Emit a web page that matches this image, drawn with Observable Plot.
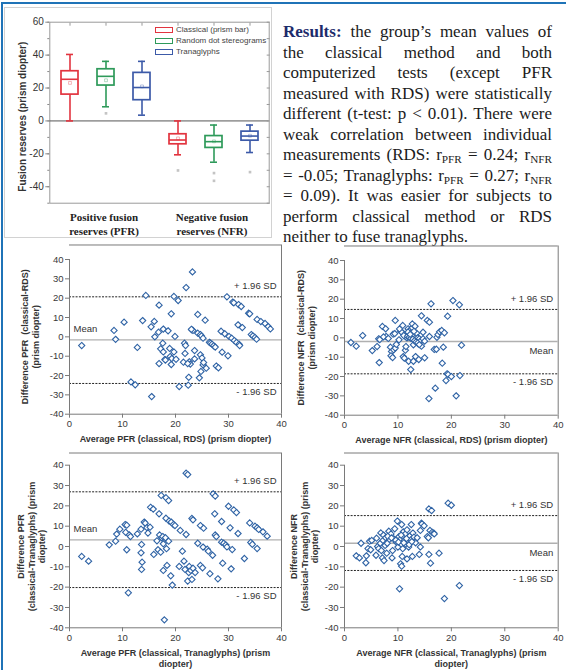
<!DOCTYPE html>
<html>
<head>
<meta charset="utf-8">
<script src="https://cdn.jsdelivr.net/npm/d3@7"></script>
<script src="https://cdn.jsdelivr.net/npm/@observablehq/plot@0.6"></script>
<style>
html,body{margin:0;padding:0;background:#fff;}
body{width:566px;height:670px;position:relative;overflow:hidden;font-family:"Liberation Sans",Arial,sans-serif;}
.abs{position:absolute;}
.abs svg{overflow:visible;display:block;}
#blueLeft{left:1px;top:2px;width:2px;height:668px;background:#1f73b7;}
#blueTop{left:1px;top:2px;width:565px;height:2px;background:#1f73b7;}
#boxPanel{left:4px;top:7px;width:266px;height:229px;border:1px solid #d2d2d2;}
#results{left:283px;top:22px;width:269px;font-family:"Liberation Serif","Times New Roman",serif;font-size:17px;line-height:20.5px;color:#1b1b1b;}
#results .j{text-align:justify;text-align-last:justify;}
#results sub{font-size:0.66em;vertical-align:-0.28em;line-height:0;}
#results b{color:#1d2b6b;}
#legend{left:155px;top:24px;font-size:8px;color:#444;}
#legend .row{display:flex;align-items:center;height:11px;white-space:nowrap;}
#legend .sw{width:16px;height:4px;border:1.5px solid;margin-right:3px;background:#fff;}
</style>
</head>
<body>
<div id="boxPanel" class="abs"></div>
<div id="blueLeft" class="abs"></div>
<div id="blueTop" class="abs"></div>
<div id="boxChart" class="abs" style="left:0;top:0"></div>
<div id="legend" class="abs"></div>
<div id="results" class="abs">
<div class="j"><b>Results:</b> the group’s mean values of</div>
<div class="j">the classical method and both</div>
<div class="j">computerized tests (except PFR</div>
<div class="j">measured with RDS) were statistically</div>
<div class="j">different (t-test: p &lt; 0.01). There were</div>
<div class="j">weak correlation between individual</div>
<div class="j">measurements (RDS: r<sub>PFR</sub> = 0.24; r<sub>NFR</sub></div>
<div class="j">= -0.05; Tranaglyphs: r<sub>PFR</sub> = 0.27; r<sub>NFR</sub></div>
<div class="j">= 0.09). It was easier for subjects to</div>
<div class="j">perform classical method or RDS</div>
<div>neither to fuse tranaglyphs.</div>
</div>
<div id="s1" class="abs" style="left:0;top:240px"></div>
<div id="s2" class="abs" style="left:285px;top:240px"></div>
<div id="s3" class="abs" style="left:0;top:450px"></div>
<div id="s4" class="abs" style="left:285px;top:450px"></div>
<script>
// ---------- Box plot data ----------
const boxKeys = ["PFR-C", "PFR-R", "PFR-T", "NFR-C", "NFR-R", "NFR-T"];
const legendLabels = ["Classical (prism bar)", "Random dot stereograms", "Tranaglyphs"];
const boxLow = [0, 8.6, 3.5, -20.6, -25.1, -19.2];
const boxQ1 = [16.0, 21.5, 12.6, -14.2, -16.4, -12.0];
const boxMedian = [25.3, 27.1, 20.3, -11.6, -12.6, -9.2];
const boxQ3 = [30.2, 31.4, 29.2, -8.1, -9.2, -6.5];
const boxHigh = [40.4, 36.2, 36.2, 0, -2.5, -2.5];
const boxMean = [23.1, 24.7, 21.0, -10.6, -12.4, -9.0];
const outlierKeys = ["PFR-R", "NFR-C", "NFR-R", "NFR-R", "NFR-T"];
const outlierValues = [4.6, -30.1, -31.7, -36.4, -31.1];
const groupKeys = ["PFR-R", "NFR-R"];
const groupLabels = ["Positive fusion\nreserves (PFR)", "Negative fusion\nreserves (NFR)"];
const boxMajorTicks = [-40, -20, 0, 20, 40, 60];
const boxMinorTicks = [-50, -40, -30, -20, -10, 0, 10, 20, 30, 40, 50, 60];
const boxYTitle = "Fusion reserves (prism diopter)";

// ---------- Bland-Altman data: [average, difference] ----------
const pfrRdsPoints = [[2.3,-4.5],[8.4,3.3],[8.7,-1.3],[10.3,7.6],[12.8,-5.5],[11.6,-23.3],[12.4,-24.8],[14.4,21.4],[13.8,8.4],[15.4,5.2],[16.0,8.0],[16.1,0.0],[16.8,2.4],[16.9,16.4],[15.5,-30.9],[16.9,-13.8],[17.2,-6.2],[17.6,-3.3],[17.7,4.0],[17.7,-7.8],[18.0,-11.7],[18.6,3.1],[18.9,-6.0],[19.2,11.9],[19.0,-10.2],[19.2,-14.3],[19.3,-11.2],[19.7,20.9],[19.7,-7.8],[19.9,0.2],[20.1,-11.6],[20.5,18.8],[20.7,-25.7],[21.7,-3.3],[21.8,-8.6],[22.0,25.5],[21.5,-13.1],[21.9,-4.5],[22.4,-25.0],[22.5,-20.9],[22.6,-12.9],[22.8,-14.1],[23.2,33.6],[23.1,3.6],[23.3,3.3],[23.6,-7.1],[23.6,-11.4],[24.2,1.9],[24.2,11.6],[24.5,-21.2],[24.7,-9.3],[24.7,1.2],[24.9,0.5],[25.0,-10.9],[25.2,-0.7],[25.2,-14.5],[24.8,-17.9],[25.6,8.6],[25.8,-16.2],[25.3,-13.3],[26.4,-2.8],[26.6,-3.3],[26.9,-3.8],[27.2,-4.6],[27.5,-5.3],[27.7,-15.1],[28.1,-16.0],[28.6,2.9],[28.8,-7.9],[29.3,1.6],[29.7,20.7],[29.9,-9.8],[30.1,0.2],[30.6,-0.7],[30.8,18.0],[31.0,17.6],[31.1,-1.9],[31.5,-2.9],[31.9,16.7],[31.8,6.2],[32.0,-3.8],[32.1,-4.5],[32.4,15.7],[32.6,4.8],[33.8,12.2],[34.0,11.9],[34.3,1.2],[34.6,0.5],[35.0,-0.3],[35.3,-1.2],[35.4,9.0],[36.1,7.9],[36.9,6.9],[37.5,5.3],[37.9,4.1],[22.3,-13.8],[23.0,3.9],[18.1,-12.0]];
const pfrRdsLimits = [20.7, -1.6, -24.1];

const nfrRdsPoints = [[1.2,-2.4],[2.2,-4.3],[3.4,1.2],[5.2,-6.6],[6.1,-4.5],[6.4,-0.5],[6.6,-0.9],[6.5,-12.8],[7.1,5.9],[7.7,4.7],[7.8,0.7],[7.3,0.5],[8.2,-0.3],[8.6,-4.8],[8.8,-7.1],[8.7,-9.3],[9.0,-10.2],[9.1,1.9],[9.4,2.2],[9.5,9.0],[9.2,-6.2],[9.5,-5.3],[9.7,-3.4],[10.2,-1.0],[10.5,3.6],[10.8,2.8],[10.9,6.4],[11.0,-9.7],[11.2,-10.5],[11.4,-6.4],[11.5,-4.5],[11.4,0.7],[11.7,0.0],[11.9,4.7],[12.0,-12.1],[12.2,3.8],[12.4,-16.4],[12.5,2.8],[12.7,5.2],[12.7,7.2],[12.9,-12.1],[12.9,-3.6],[13.2,6.0],[13.3,-9.7],[13.4,0.3],[13.5,2.4],[13.7,0.0],[13.8,-3.1],[13.9,-11.2],[14.0,-0.5],[14.2,-1.7],[14.4,11.4],[14.4,-4.3],[14.7,2.9],[14.7,-0.5],[15.0,-1.7],[15.0,-10.3],[15.5,9.0],[15.9,0.7],[15.8,-31.4],[15.9,8.1],[16.2,17.6],[16.8,-6.0],[17.0,-26.0],[17.2,-5.9],[17.3,0.3],[17.5,1.7],[17.8,3.1],[18.2,3.8],[18.3,-13.1],[18.5,-4.8],[18.7,2.6],[19.3,11.2],[19.2,-18.6],[19.0,-22.1],[19.4,-19.0],[20.0,-20.0],[20.3,19.3],[20.9,-30.0],[21.5,17.1],[21.6,-19.5],[21.9,-3.8],[10.6,3.2],[11.1,1.2],[11.8,0.8],[12.1,0.3],[12.4,-0.2],[12.8,-0.7],[13.1,-1.5],[13.4,-2.1],[13.7,-2.6],[14.0,-3.5],[11.9,3.0],[10.3,4.6],[12.3,1.8],[13.0,3.4]];
const nfrRdsLimits = [14.7, -1.9, -18.6];

const pfrTraPoints = [[2.3,-4.9],[3.6,-7.2],[7.5,0.8],[8.7,2.6],[8.9,6.1],[9.5,8.5],[10.5,10.8],[10.8,10.5],[10.6,7.0],[10.8,-1.6],[11.1,-22.8],[11.3,5.7],[11.5,4.9],[12.8,6.2],[13.5,8.5],[13.6,1.0],[13.5,-3.1],[13.6,-11.3],[13.7,-7.7],[14.1,12.0],[14.3,11.5],[14.6,9.3],[14.8,6.6],[15.2,9.5],[15.3,19.3],[15.8,18.4],[15.9,-3.9],[16.5,2.8],[16.7,-1.6],[16.9,16.1],[17.0,5.7],[17.2,-2.8],[17.3,25.1],[17.4,4.3],[17.6,4.9],[17.7,1.3],[17.7,-11.8],[17.9,-36.1],[18.1,4.3],[18.2,24.0],[18.2,13.9],[18.3,-1.1],[18.4,-9.3],[18.7,22.6],[18.7,2.6],[18.8,12.5],[19.1,-14.4],[19.2,12.0],[19.4,-19.0],[19.6,10.8],[19.9,10.3],[20.7,-9.8],[20.9,7.9],[21.3,-2.3],[21.6,-7.2],[22.0,5.9],[22.0,36.1],[22.3,35.4],[21.8,-11.3],[22.3,-17.0],[22.5,-12.8],[22.6,-9.8],[22.9,-11.8],[23.1,13.8],[23.3,13.1],[23.1,-16.2],[23.3,-10.7],[23.7,-12.8],[24.2,1.6],[24.7,10.3],[24.7,-9.3],[25.1,-10.5],[25.2,-0.3],[25.3,9.0],[26.0,-1.3],[26.2,-2.3],[26.5,-13.4],[27.0,-4.3],[27.1,25.9],[27.4,16.1],[27.5,24.8],[27.5,5.7],[27.7,4.9],[28.0,-15.9],[28.7,12.3],[28.7,2.1],[28.9,-8.2],[29.1,1.6],[29.5,0.8],[29.7,-0.2],[30.0,19.8],[30.3,9.2],[30.5,-11.0],[30.7,-1.5],[31.0,18.0],[31.5,16.7],[31.8,6.4],[33.0,-5.9],[34.0,11.6],[34.2,2.0],[34.5,1.1],[35.0,10.0],[35.4,9.2],[35.4,-1.0],[35.7,8.4],[36.5,7.2],[37.3,5.1]];
const pfrTraLimits = [26.9, 3.3, -20.2];

const nfrTraPoints = [[2.2,-4.6],[2.8,-5.6],[3.1,1.6],[4.0,-8.0],[4.1,-4.6],[4.4,-1.0],[4.7,2.6],[4.9,-1.6],[5.1,3.0],[5.9,-4.3],[6.0,4.1],[6.2,0.0],[6.4,-1.0],[6.7,1.6],[6.8,6.7],[6.9,-2.0],[7.1,-5.6],[7.2,3.0],[7.3,5.6],[7.4,-6.9],[7.6,0.5],[7.7,4.3],[7.9,-3.3],[8.0,1.6],[8.3,7.5],[8.4,3.6],[8.7,6.2],[8.9,-5.6],[9.0,-2.0],[9.2,3.8],[9.4,8.7],[9.7,2.1],[9.9,12.5],[10.0,-0.3],[10.2,4.9],[10.3,-20.8],[10.4,3.3],[10.5,-8.5],[10.7,-9.7],[10.7,10.8],[10.8,-4.9],[10.9,-1.1],[11.0,7.2],[11.2,3.0],[11.4,6.2],[11.5,1.0],[11.7,-6.1],[11.7,8.2],[11.9,4.3],[12.0,-0.3],[12.2,5.1],[12.4,3.3],[12.5,10.8],[12.7,-4.9],[12.8,6.6],[13.0,4.6],[13.3,1.8],[13.6,4.3],[14.0,-3.9],[14.2,-0.2],[14.2,7.9],[14.4,11.5],[14.5,11.1],[14.9,10.2],[15.5,4.9],[15.7,4.3],[15.8,-3.9],[15.8,18.5],[16.0,7.9],[16.1,-8.2],[16.3,17.7],[16.4,7.0],[16.7,6.6],[16.8,6.2],[17.7,-3.3],[18.7,-25.6],[19.4,21.3],[20.0,20.3],[21.5,-19.2],[8.1,5.0],[8.8,4.2],[9.6,3.1],[10.1,2.2],[11.1,1.8],[12.1,0.9],[12.6,2.4],[11.6,3.9],[10.6,5.6]];
const nfrTraLimits = [15.2, 1.6, -11.8];

const sdLabels = ["+ 1.96 SD", "Mean", "- 1.96 SD"];
const scatterXTicks = [0, 10, 20, 30, 40];
const scatterYTicks = [-40, -30, -20, -10, 0, 10, 20, 30, 40];

// ---------- styles ----------
const sansFont = '"Liberation Sans", Arial, Helvetica, sans-serif';
const serifFont = '"Liberation Serif", "Times New Roman", serif';
const methodColors = ["#e2343f", "#2e9a5a", "#3c5aa8"];
const axisGray = "#7a7a7a";
const textDark = "#333";

// ---------- legend (HTML) ----------
const legendEl = document.getElementById("legend");
legendLabels.forEach((lab, i) => {
  const row = document.createElement("div");
  row.className = "row";
  const sw = document.createElement("span");
  sw.className = "sw";
  sw.style.borderColor = methodColors[i];
  row.appendChild(sw);
  row.appendChild(document.createTextNode(lab));
  legendEl.appendChild(row);
});

// ---------- Box plot ----------
const boxRows = boxKeys.map((k, i) => ({
  key: k, m: i % 3, lo: boxLow[i], q1: boxQ1[i], med: boxMedian[i],
  q3: boxQ3[i], hi: boxHigh[i], mean: boxMean[i]
}));
const outlierRows = outlierKeys.map((k, i) => ({key: k, value: outlierValues[i]}));
const groupRows = groupKeys.map((k, i) => ({key: k, label: groupLabels[i]}));
const colorOf = d => methodColors[d.m];

const boxChart = Plot.plot({
  width: 272, height: 240,
  marginLeft: 49.3, marginRight: 3.3, marginTop: 21.7, marginBottom: 37.3,
  style: {fontFamily: sansFont, fontSize: "10px", color: textDark, background: "transparent"},
  x: {type: "band", domain: boxKeys, paddingInner: 0.536, paddingOuter: 0.26},
  y: {domain: [-50, 60]},
  color: {type: "identity"},
  marks: [
    Plot.frame({stroke: "#9a9a9a"}),
    Plot.ruleY([0], {stroke: "#555", strokeWidth: 1}),
    Plot.axisY(boxMinorTicks, {tickSize: 2, tickFormat: () => "", stroke: "#888"}),
    Plot.axisY(boxMajorTicks, {tickSize: 4, tickPadding: 2, tickFormat: d => String(d), stroke: "#888", fill: "#333", label: null}),
    Plot.axisY(boxMinorTicks, {anchor: "right", tickSize: -3, tickFormat: () => "", stroke: "#999", label: null}),
    Plot.axisX(boxKeys, {anchor: "top", tickSize: -3, tickFormat: () => "", stroke: "#999", label: null}),
    Plot.ruleX(boxRows, {x: "key", y1: "lo", y2: "q1", stroke: colorOf, strokeWidth: 1.6}),
    Plot.ruleX(boxRows, {x: "key", y1: "q3", y2: "hi", stroke: colorOf, strokeWidth: 1.6}),
    Plot.tickY(boxRows, {x: "key", y: "lo", stroke: colorOf, strokeWidth: 1.6, insetLeft: 5, insetRight: 5}),
    Plot.tickY(boxRows, {x: "key", y: "hi", stroke: colorOf, strokeWidth: 1.6, insetLeft: 5, insetRight: 5}),
    Plot.barY(boxRows, {x: "key", y1: "q1", y2: "q3", fill: "white", stroke: colorOf, strokeWidth: 1.7}),
    Plot.tickY(boxRows, {x: "key", y: "med", stroke: colorOf, strokeWidth: 1.6}),
    Plot.dot(boxRows, {x: "key", y: "mean", symbol: "square", r: 1.6, stroke: colorOf, strokeOpacity: 0.35, strokeWidth: 1}),
    Plot.dot(outlierRows, {x: "key", y: "value", symbol: "square", r: 1.5, fill: "#c4c4c4", stroke: "none"}),
    Plot.text([boxYTitle], {text: d => d, frameAnchor: "left", textAnchor: "middle", rotate: -90, dx: -26.6, dy: 4, fontWeight: "bold", fontSize: 10, fill: "#333"}),
    Plot.text(groupRows, {x: "key", text: "label", frameAnchor: "bottom", dx: -2, dy: 20.5, lineAnchor: "middle", lineHeight: 1.27, fontFamily: serifFont, fontWeight: "bold", fontSize: 11, fill: "#222"})
  ]
});
document.getElementById("boxChart").appendChild(boxChart);

// ---------- Bland-Altman plots ----------
function blandAltman(cfg) {
  const [upper, mean, lower] = cfg.limits;
  const limitRows = cfg.limits.map((v, i) => ({value: v, label: sdLabels[i]}));
  const meanRight = cfg.meanSide === "right";
  return Plot.plot({
    width: cfg.width, height: cfg.height,
    marginLeft: cfg.marginLeft, marginRight: cfg.marginRight,
    marginTop: cfg.marginTop, marginBottom: cfg.marginBottom,
    style: {fontFamily: sansFont, fontSize: "9.5px", color: textDark, background: "transparent"},
    x: {domain: [0, 40]},
    y: {domain: [-40, 40]},
    marks: [
      Plot.ruleY([cfg.frameTop], {stroke: axisGray}),
      Plot.ruleX([40], {y1: -40, y2: cfg.frameTop, stroke: axisGray}),
      Plot.ruleY([mean], {stroke: "#b0b0b0", strokeWidth: 1.3}),
      Plot.ruleY([upper, lower], {stroke: "#222", strokeWidth: 1, strokeDasharray: "2,1.3"}),
      Plot.dot(cfg.points, {x: d => d[0], y: d => d[1], symbol: "diamond2", r: 2.8, stroke: "#2f63a5", strokeWidth: 1.1, fill: "white"}),
      Plot.ruleX([0], {stroke: axisGray}),
      Plot.ruleY([-40], {stroke: axisGray}),
      Plot.axisX(scatterXTicks, {tickSize: 4, tickPadding: 2, tickFormat: d => String(d), stroke: axisGray, fill: "#3a3a3a", label: null}),
      Plot.axisY(scatterYTicks, {tickSize: 4, tickPadding: 2, tickFormat: d => String(d), stroke: axisGray, fill: "#3a3a3a", label: null}),
      Plot.text(limitRows.slice(0, 1), {y: "value", text: "label", frameAnchor: "right", textAnchor: "end", dx: -5, dy: -10.5, fill: "#333"}),
      Plot.text(limitRows.slice(2, 3), {y: "value", text: "label", frameAnchor: "right", textAnchor: "end", dx: -5, dy: 8, fill: "#333"}),
      Plot.text(limitRows.slice(1, 2), meanRight
        ? {y: "value", text: "label", frameAnchor: "right", textAnchor: "end", dx: -5, dy: 9.5, fill: "#333"}
        : {y: "value", text: "label", frameAnchor: "left", textAnchor: "start", dx: 4, dy: -11, fill: "#333"}),
      Plot.text([cfg.yTitle], {text: d => d, frameAnchor: "left", textAnchor: "middle", rotate: -90, dx: cfg.yTitleDx, lineAnchor: "middle", lineHeight: 1.17, fontWeight: "bold", fontSize: 9, fill: "#333"}),
      Plot.text([cfg.xTitle], {text: d => d, frameAnchor: "bottom", textAnchor: "middle", dy: cfg.xTitleDy, lineAnchor: "middle", lineHeight: 1.2, fontWeight: "bold", fontSize: 9, fill: "#333"})
    ]
  });
}

document.getElementById("s1").appendChild(blandAltman({
  points: pfrRdsPoints, limits: pfrRdsLimits, meanSide: "left",
  width: 290, height: 210, marginLeft: 69, marginRight: 9, marginTop: 19, marginBottom: 36.3,
  frameTop: 47.5, yTitleDx: -39.5, xTitleDy: 24.6,
  yTitle: "Difference PFR  (classical-RDS)\n(prism diopter)",
  xTitle: "Average PFR (classical, RDS) (prism diopter)"
}));
document.getElementById("s2").appendChild(blandAltman({
  points: nfrRdsPoints, limits: nfrRdsLimits, meanSide: "right",
  width: 281, height: 210, marginLeft: 59, marginRight: 8.3, marginTop: 20, marginBottom: 35.3,
  frameTop: 47.5, yTitleDx: -38.2, xTitleDy: 24.3,
  yTitle: "Difference NFR  (classical-RDS)\n(prism diopter)",
  xTitle: "Average NFR (classical, RDS) (prism diopter)"
}));
document.getElementById("s3").appendChild(blandAltman({
  points: pfrTraPoints, limits: pfrTraLimits, meanSide: "left",
  width: 290, height: 220, marginLeft: 69, marginRight: 9, marginTop: 14.7, marginBottom: 42.7,
  frameTop: 46, yTitleDx: -38.3, xTitleDy: 30.5,
  yTitle: "Difference PFR\n(classical-Tranaglyphs) (prism\ndiopter)",
  xTitle: "Average PFR (classical, Tranaglyphs) (prism\ndiopter)"
}));
document.getElementById("s4").appendChild(blandAltman({
  points: nfrTraPoints, limits: nfrTraLimits, meanSide: "right",
  width: 281, height: 220, marginLeft: 59, marginRight: 8.3, marginTop: 14.7, marginBottom: 42.7,
  frameTop: 46, yTitleDx: -40, xTitleDy: 30.5,
  yTitle: "Difference NFR\n(classical-Tranaglyphs) (prism\ndiopter)",
  xTitle: "Average NFR (classical, Tranaglyphs) (prism\ndiopter)"
}));
</script>
</body>
</html>
